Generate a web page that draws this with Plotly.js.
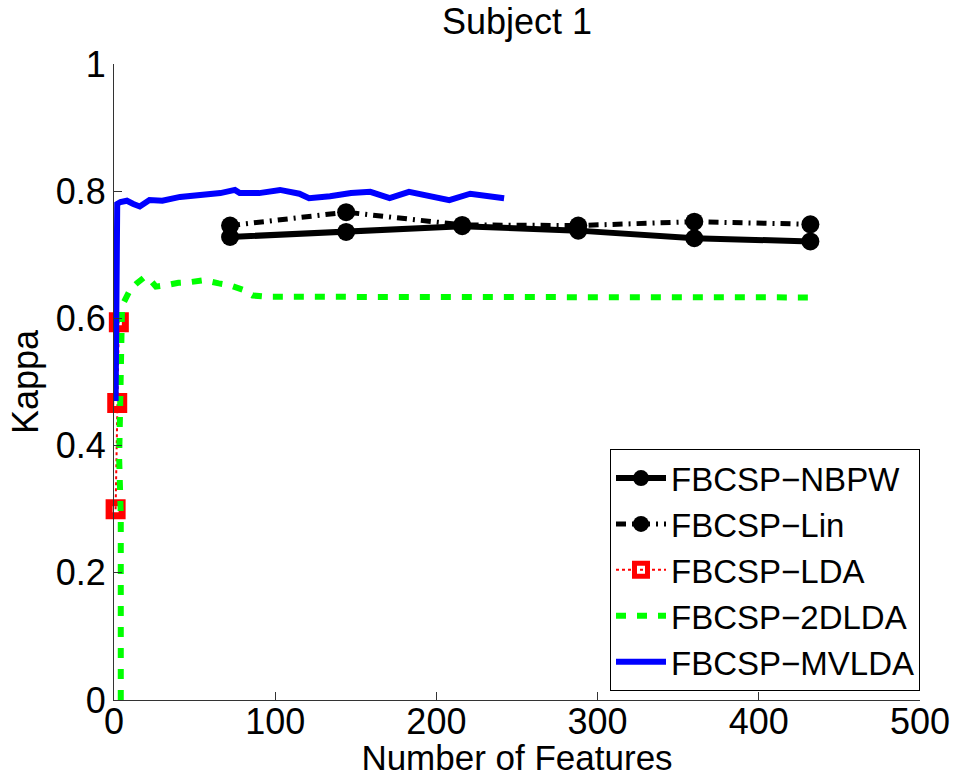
<!DOCTYPE html>
<html>
<head>
<meta charset="utf-8">
<script src="https://cdn.plot.ly/plotly-3.0.1.min.js"></script>
<style>html,body{margin:0;padding:0;background:#fff;}#chart{width:957px;height:777px;}</style>
</head>
<body>
<div id="chart"></div>
<script>
// Data
const seriesNames = ["FBCSP\u2212NBPW", "FBCSP\u2212Lin", "FBCSP\u2212LDA", "FBCSP\u22122DLDA", "FBCSP\u2212MVLDA"];

const nbpwX = [72, 144, 216, 288, 360, 432];
const nbpwY = [0.728, 0.736, 0.745, 0.738, 0.726, 0.721];

const linX = [72, 144, 216, 288, 360, 432];
const linY = [0.746, 0.767, 0.747, 0.746, 0.752, 0.748];

const ldaX = [1, 2, 3];
const ldaY = [0.30, 0.467, 0.594];

const dldaX = [4.2, 4.2, 3.2, 3.5, 4.2, 5, 7, 10, 14, 17, 19, 22, 26, 32, 40, 47, 56, 65, 72, 80, 86, 95, 103, 432];
const dldaY = [0, 0.29, 0.38, 0.46, 0.55, 0.62, 0.63, 0.645, 0.655, 0.66, 0.665, 0.662, 0.65, 0.652, 0.656, 0.657, 0.66, 0.655, 0.652, 0.645, 0.636, 0.634, 0.634, 0.633];

const mvldaX = [1, 2, 4, 8, 12, 16, 22, 30, 41, 53, 66, 75, 78, 90, 103, 115, 121, 134, 147, 159, 162, 171, 183, 196, 208, 221, 233, 242];
const mvldaY = [0.47, 0.78, 0.783, 0.785, 0.78, 0.776, 0.786, 0.785, 0.791, 0.794, 0.797, 0.802, 0.797, 0.797, 0.802, 0.796, 0.789, 0.792, 0.797, 0.799, 0.797, 0.789, 0.799, 0.791, 0.786, 0.796, 0.791, 0.789];

const xTicks = [0, 100, 200, 300, 400, 500];
const yTicks = [0, 0.2, 0.4, 0.6, 0.8, 1];
const yTickText = ["0", "0.2", "0.4", "0.6", "0.8", "1"];

const FONT = "Liberation Sans, Arial, Helvetica, sans-serif";

const traces = [
  {x: nbpwX, y: nbpwY, name: seriesNames[0], mode: "lines+markers",
   line: {color: "#000", width: 6}, marker: {symbol: "circle", size: 18, color: "#000"}},
  {x: linX, y: linY, name: seriesNames[1], mode: "lines+markers",
   line: {color: "#000", width: 5, dash: "10px,6px,2px,6px"}, marker: {symbol: "circle", size: 18, color: "#000"}},
  {x: ldaX, y: ldaY, name: seriesNames[2], mode: "lines+markers", cliponaxis: false,
   line: {color: "#ff0000", width: 2, dash: "dot"},
   marker: {symbol: "square-open", size: 13, color: "#ff0000", line: {color: "#ff0000", width: 7}}},
  {x: dldaX, y: dldaY, name: seriesNames[3], mode: "lines",
   line: {color: "#00ff00", width: 6, dash: "10px,11px"}},
  {x: mvldaX, y: mvldaY, name: seriesNames[4], mode: "lines",
   line: {color: "#0000ff", width: 6}}
];

const layout = {
  width: 957, height: 777,
  paper_bgcolor: "#fff", plot_bgcolor: "#fff",
  margin: {l: 114, r: 37, t: 64, b: 77},
  font: {family: FONT, color: "#000", size: 36},
  title: {text: "Subject 1", font: {family: FONT, size: 36, color: "#000"}, x: 0.5, xanchor: "center", y: 0.972, yanchor: "middle", xref: "paper"},
  showlegend: true,
  legend: {x: 1, xanchor: "right", y: 0.014, yanchor: "bottom", bgcolor: "#fff", bordercolor: "#000", borderwidth: 1,
           font: {family: FONT, size: 33, color: "#000"}, tracegroupgap: 0, itemwidth: 50},
  xaxis: {range: [0, 500], tickvals: xTicks, ticktext: xTicks.map(String), ticks: "inside", ticklen: 8, tickcolor: "#333",
          showline: true, linecolor: "#333", linewidth: 1, showgrid: false, zeroline: false, mirror: false,
          ticklabelstandoff: -10,
          tickfont: {family: FONT, size: 36, color: "#000"},
          title: {text: "Number of Features", font: {family: FONT, size: 35, color: "#000"}, standoff: 10}},
  yaxis: {range: [0, 1], tickvals: yTicks, ticktext: yTickText, ticks: "inside", ticklen: 8, tickcolor: "#333",
          showline: true, linecolor: "#333", linewidth: 1, showgrid: false, zeroline: false, mirror: false,
          tickfont: {family: FONT, size: 36, color: "#000"},
          title: {text: "Kappa", font: {family: FONT, size: 36, color: "#000"}, standoff: 6}}
};

Plotly.newPlot("chart", traces, layout, {displayModeBar: false, staticPlot: true});
</script>
</body>
</html>
